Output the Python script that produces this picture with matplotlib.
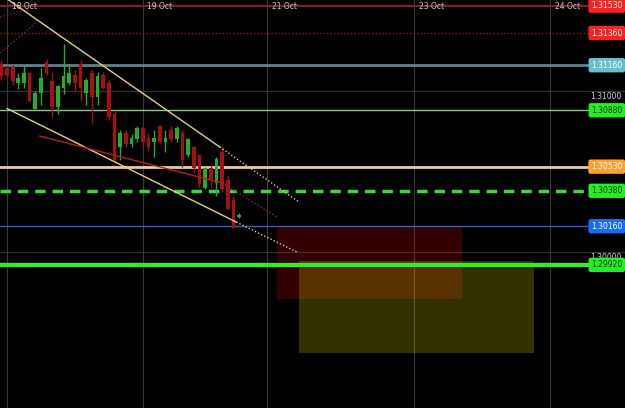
import matplotlib.pyplot as plt
import matplotlib.transforms as mtransforms
from matplotlib.patches import Rectangle
import numpy as np

# hourly candles, bar 0 = 18 Oct 00:00
bars = np.arange(-1, 42)
opens = [1.3117, 1.3114, 1.3115, 1.3105, 1.3105, 1.3111, 1.3089, 1.3099, 1.3118, 1.3106,
         1.3090, 1.3102, 1.3105, 1.3110, 1.3117, 1.3099, 1.3111, 1.3096, 1.3110, 1.3105,
         1.3086, 1.3065, 1.3074, 1.3067, 1.3070, 1.3077, 1.3071, 1.3068, 1.3078, 1.3068,
         1.3076, 1.3070, 1.3074, 1.3060, 1.3065, 1.3060, 1.3040, 1.3052, 1.3043, 1.3062,
         1.3045, 1.3032, 1.3022]
highs = [1.3119, 1.3116, 1.3116, 1.3111, 1.3116, 1.3112, 1.3100, 1.3114, 1.3120, 1.3111,
         1.3104, 1.3129, 1.3116, 1.3113, 1.3119, 1.3108, 1.3113, 1.3112, 1.3112, 1.3107,
         1.3088, 1.3076, 1.3076, 1.3073, 1.3078, 1.3078, 1.3073, 1.3076, 1.3079, 1.3076,
         1.3078, 1.3078, 1.3076, 1.3071, 1.3066, 1.3061, 1.3053, 1.3054, 1.3059, 1.3066,
         1.3048, 1.3035, 1.3024]
lows = [1.3107, 1.3108, 1.3104, 1.3101, 1.3102, 1.3093, 1.3088, 1.3091, 1.3110, 1.3084,
        1.3086, 1.3098, 1.3104, 1.3100, 1.3094, 1.3091, 1.3080, 1.3091, 1.3101, 1.3082,
        1.3056, 1.3057, 1.3065, 1.3065, 1.3068, 1.3066, 1.3063, 1.3059, 1.3067, 1.3062,
        1.3068, 1.3068, 1.3053, 1.3059, 1.3049, 1.3040, 1.3039, 1.3040, 1.3035, 1.3037,
        1.3026, 1.3015, 1.3021]
closes = [1.3109, 1.3110, 1.3106, 1.3108, 1.3111, 1.3094, 1.3099, 1.3108, 1.3111, 1.3090,
          1.3103, 1.3109, 1.3111, 1.3105, 1.3102, 1.3107, 1.3096, 1.3109, 1.3102, 1.3084,
          1.3057, 1.3074, 1.3067, 1.3071, 1.3077, 1.3068, 1.3065, 1.3071, 1.3068, 1.3071,
          1.3070, 1.3077, 1.3057, 1.3070, 1.3052, 1.3042, 1.3052, 1.3045, 1.3058, 1.3039,
          1.3027, 1.3015, 1.3023]

# horizontal levels
level_prices = [1.3153, 1.3136, 1.3116, 1.3088, 1.3053, 1.3038, 1.3016, 1.2992]
level_texts = ['1.31530', '1.31360', '1.31160', '1.30880', '1.30530', '1.30380', '1.30160', '1.29920']

grid_prices = [1.31, 1.30]
grid_texts = ['1.31000', '1.30000']

date_bars = [0, 24, 46, 72, 96]
date_texts = ['18 Oct', '19 Oct', '21 Oct', '23 Oct', '24 Oct']

# trend lines: (bar, price) pairs, solid part then dotted extension
upper_pts = [(-1.24, 1.31602), (37.6, 1.30652), (51.4, 1.30315)]
lower_pts = [(0.0, 1.30891), (40.5, 1.30186), (51.2, 1.30000)]
red_pts = [(5.8, 1.30720), (38.0, 1.30429), (47.7, 1.30217)]
fib_a = [(-1.24, 1.31460), (4.4, 1.31516)]
fib_b = [(-1.24, 1.31236), (5.3, 1.31429)]

# zones (bar0, bar1, price_low, price_high)
zone_red = (47.7, 80.4, 1.29708, 1.30155)
zone_olive = (51.6, 93.1, 1.29373, 1.29944)

fig = plt.figure(figsize=(6.25, 4.08), dpi=100, facecolor='black')
ax = fig.add_axes([0, 0, 1, 1], facecolor='black')
ax.set_xlim(-1.24, 109.2)
ax.set_ylim(1.29031, 1.31565)
ax.set_axis_off()

# grid
for b in date_bars:
    ax.axvline(b, color='#3a3a3a', lw=0.8, zorder=0)
for p in grid_prices:
    ax.axhline(p, color='#333333', lw=0.8, zorder=0)

# zones
ax.add_patch(Rectangle((zone_red[0], zone_red[2]), zone_red[1] - zone_red[0],
                       zone_red[3] - zone_red[2], facecolor='#ff0000', alpha=0.2, lw=0, zorder=1))
ax.add_patch(Rectangle((zone_olive[0], zone_olive[2]), zone_olive[1] - zone_olive[0],
                       zone_olive[3] - zone_olive[2], facecolor='#ffff00', alpha=0.2, lw=0, zorder=1))

# levels
level_styles = [
    dict(color='#8c1c1c', lw=1.5, ls='-'),
    dict(color='#8c1c1c', lw=1.0, ls=(0, (1, 1.5))),
    dict(color='#62808c', lw=2.0, ls='-'),
    dict(color='#80d080', lw=1.0, ls='-'),
    dict(color='#f0c8a0', lw=2.0, ls='-'),
    dict(color='#33dd33', lw=2.5, ls=(0, (3, 2))),
    dict(color='#3a5acc', lw=1.0, ls='-'),
    dict(color='#33ee22', lw=3.0, ls='-'),
]
for p, st in zip(level_prices, level_styles):
    ax.axhline(p, zorder=2, **st)

# candles
for b, o, h, l, c in zip(bars, opens, highs, lows, closes):
    col = '#22b022' if c >= o else '#a81010'
    ax.vlines(b, l, h, color=col, lw=1.0, zorder=3)
    ax.bar(b, max(abs(c - o), 0.00003), bottom=min(o, c), width=0.65, color=col, lw=0, zorder=3)

def trend(pts, color):
    (x0, y0), (x1, y1), (x2, y2) = pts
    ax.plot([x0, x1], [y0, y1], color=color, lw=1.0, zorder=4)
    ax.plot([x1, x2], [y1, y2], color=color, lw=1.0, ls=(0, (1, 1.5)), zorder=4)

trend(upper_pts, '#e8d070')
trend(lower_pts, '#e8d070')
trend(red_pts, '#b02020')
for seg in (fib_a, fib_b):
    ax.plot([q[0] for q in seg], [q[1] for q in seg], color='#8c1c1c', lw=1.0,
            ls=(0, (1, 1.5)), zorder=2)

# date labels
top = mtransforms.blended_transform_factory(ax.transData, ax.transAxes)
for b, t in zip(date_bars, date_texts):
    ax.text(b + 0.8, 0.985, t, transform=top, color='#c8c8c8', fontsize=5.5,
            ha='left', va='center', zorder=5)

# price labels
right = mtransforms.blended_transform_factory(ax.transAxes, ax.transData)
for p, t in zip(grid_prices, grid_texts):
    ax.text(0.995, p - 0.00036, t, transform=right, color='#d0d0d0', fontsize=5.5,
            ha='right', va='center', zorder=5)

box_faces = ['#ff2020', '#ff2020', '#66c0d0', '#22ee22', '#ffa033', '#22ee22', '#1a6aff', '#22ee22']
box_texts = ['white', 'white', 'white', '#103010', 'white', '#103010', 'white', '#103010']
for p, t, fc, tc in zip(level_prices, level_texts, box_faces, box_texts):
    ax.text(0.996, p, t, transform=right, color=tc, fontsize=5.5, ha='right', va='center',
            zorder=6, bbox=dict(boxstyle='round,pad=0.35,rounding_size=0.3', fc=fc, ec='none'))

fig.savefig('out.png', dpi=100, facecolor='black')
